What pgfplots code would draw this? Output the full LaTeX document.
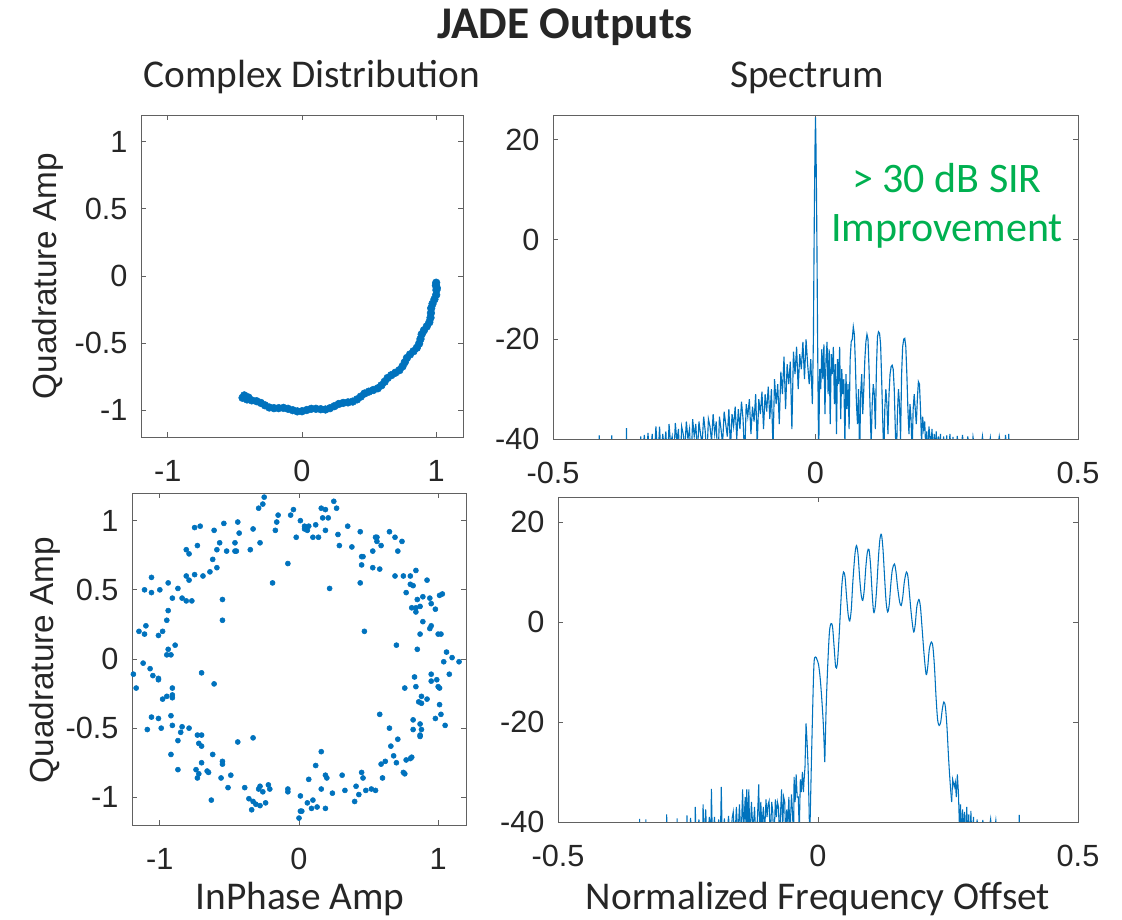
\documentclass[border=0pt]{standalone}
\usepackage{fontspec}
\setmainfont{Liberation Sans}
\newfontfamily\calib{Carlito}
\usepackage{pgfplots}
\pgfplotsset{compat=1.18}
\definecolor{mblue}{HTML}{0072BD}
\definecolor{mgreen}{HTML}{00B050}
\pgfplotsset{ml/.style={scale only axis, anchor=south west,
  axis line style={draw=black!62, line width=0.7pt},
  tick align=inside, major tick length=3.5pt,
  tick style={draw=black!62, line width=0.7pt},
  tick label style={font=\fontsize{23}{24}\selectfont, text=black!85},
  /pgf/number format/assume math mode=true,
  xticklabel style={inner sep=0pt, anchor=north, yshift=-17pt},
  yticklabel style={inner sep=0pt, anchor=east, xshift=-10pt}},
  iq/.style={ml, xmin=-1.2, xmax=1.2, ymin=-1.2, ymax=1.2, xtick={-1,0,1}, ytick={-1,-0.5,0,0.5,1}},
  sp/.style={ml, xmin=-0.5, xmax=0.5, ymin=-40, ymax=25, xtick={-0.5,0,0.5}, ytick={-40,-20,0,20}}
}
\begin{document}
\begin{tikzpicture}
\useasboundingbox (0,0) rectangle (841.5pt,690pt);
% titles
\node[anchor=base, inner sep=0pt, text=black!85] at (423.75pt,660.75pt) {\calib\bfseries\fontsize{34}{36}\selectfont JADE Outputs};
\node[anchor=base, inner sep=0pt, text=black!85] at (234pt,624pt) {\calib\fontsize{29.5}{30}\selectfont Complex Distribution};
\node[anchor=base, inner sep=0pt, text=black!85] at (605.25pt,624pt) {\calib\fontsize{29.5}{30}\selectfont Spectrum};
\node[anchor=base, inner sep=0pt, text=black!85] at (225pt,7.5pt) {\calib\fontsize{29.5}{30}\selectfont InPhase Amp};
\node[anchor=base, inner sep=0pt, text=black!85] at (613.5pt,7.5pt) {\calib\fontsize{29.5}{30}\selectfont Normalized Frequency Offset};
\node[rotate=90, inner sep=0pt, text=black!85] at (36pt,483pt) {\fontsize{25}{26}\selectfont Quadrature Amp};
\node[rotate=90, inner sep=0pt, text=black!85] at (34pt,195pt) {\fontsize{25}{26}\selectfont Quadrature Amp};

% top-left
\begin{axis}[iq, at={(105.75pt,362.25pt)}, width=241.5pt, height=241.5pt]
\addplot[only marks, mark=*, mark size=2.9pt, color=mblue] coordinates {
(1.000,-0.050) (1.005,-0.090)
(0.998,-0.070) (1.002,-0.105) (1.000,-0.141) (0.987,-0.174) (0.973,-0.207) (0.963,-0.240)
(0.961,-0.276) (0.958,-0.311) (0.949,-0.345) (0.930,-0.376) (0.909,-0.405) (0.892,-0.435)
(0.883,-0.470) (0.873,-0.504) (0.856,-0.535) (0.831,-0.561) (0.805,-0.585) (0.782,-0.611)
(0.766,-0.643) (0.749,-0.674) (0.726,-0.702) (0.696,-0.721) (0.666,-0.739) (0.638,-0.760)
(0.616,-0.788) (0.592,-0.815) (0.565,-0.837) (0.531,-0.850) (0.498,-0.862) (0.466,-0.876)
(0.438,-0.899) (0.410,-0.920) (0.378,-0.936) (0.343,-0.942) (0.307,-0.946) (0.274,-0.954)
(0.242,-0.970) (0.209,-0.985) (0.175,-0.995) (0.140,-0.993) (0.104,-0.990) (0.069,-0.990)
(0.035,-0.999) (0.000,-1.008) (-0.035,-1.009) (-0.070,-1.000) (-0.104,-0.990) (-0.138,-0.983)
(-0.174,-0.985) (-0.209,-0.985) (-0.244,-0.980) (-0.276,-0.964) (-0.307,-0.946) (-0.339,-0.933)
(-0.375,-0.927) (-0.410,-0.920) (-0.443,-0.908) (-0.430,-0.890) (-0.400,-0.905)
};
\end{axis}

% top-right
\begin{axis}[sp, at={(414.75pt,360.75pt)}, width=393.75pt, height=243pt]
\addplot[color=mblue, line width=0.85pt] coordinates {
(-0.5,-48) (-0.413,-46) (-0.412,-39.3) (-0.411,-46) (-0.389,-46) (-0.388,-39.3) (-0.387,-46)
(-0.361,-46) (-0.360,-37.8) (-0.359,-46) (-0.334,-46) (-0.333,-39.5) (-0.331,-45) (-0.326,-39.2)
(-0.323,-45) (-0.319,-38.8) (-0.316,-45) (-0.311,-39) (-0.308,-46) (-0.304,-37.5) (-0.300,-44)
(-0.297,-37.5) (-0.294,-45) (-0.291,-39) (-0.288,-42) (-0.285,-38.5) (-0.282,-46) (-0.279,-37)
(-0.276,-41) (-0.273,-39.5) (-0.270,-44) (-0.267,-36.8) (-0.264,-40.5) (-0.261,-38) (-0.258,-47)
(-0.255,-37.5) (-0.252,-39) (-0.249,-42) (-0.246,-36.5) (-0.243,-40) (-0.240,-38) (-0.237,-45)
(-0.234,-36) (-0.231,-39.5) (-0.228,-37) (-0.225,-43) (-0.222,-36.5) (-0.219,-39) (-0.216,-41)
(-0.213,-35.5) (-0.210,-38.5) (-0.207,-44) (-0.204,-36) (-0.201,-37.5) (-0.198,-40.5) (-0.195,-35)
(-0.192,-39) (-0.189,-36.5) (-0.186,-46) (-0.183,-35.5) (-0.180,-38) (-0.177,-41) (-0.174,-34.5)
(-0.171,-37) (-0.168,-39.5) (-0.165,-34) (-0.162,-42) (-0.159,-35) (-0.156,-37.5) (-0.153,-33.5)
(-0.150,-40) (-0.147,-34) (-0.144,-38) (-0.141,-32.5) (-0.138,-36) (-0.135,-44) (-0.132,-33)
(-0.129,-35.5) (-0.126,-32) (-0.123,-39) (-0.120,-33.5) (-0.117,-36.5) (-0.114,-31) (-0.111,-41)
(-0.108,-32) (-0.105,-35) (-0.102,-30.5) (-0.099,-38) (-0.096,-31) (-0.093,-34.5) (-0.090,-29.5)
(-0.087,-36) (-0.084,-30) (-0.081,-42) (-0.078,-28) (-0.075,-33) (-0.072,-29) (-0.069,-37)
(-0.066,-26.5) (-0.063,-31) (-0.060,-23.5) (-0.057,-34) (-0.054,-25) (-0.051,-29) (-0.048,-24.5)
(-0.045,-38) (-0.042,-22.5) (-0.039,-27) (-0.036,-21.5) (-0.033,-30) (-0.030,-23) (-0.027,-26)
(-0.024,-20.5) (-0.021,-28) (-0.018,-20) (-0.015,-25) (-0.012,-29) (-0.009,-24) (-0.006,-33)
(-0.004,-20) (-0.003,-5) (-0.002,8) (-0.001,18) (0.000,24.5) (0.001,18) (0.002,8) (0.003,-5)
(0.004,-20) (0.006,-44) (0.008,-26) (0.010,-30) (0.012,-22) (0.014,-28) (0.016,-21) (0.018,-35)
(0.020,-24) (0.022,-20.5) (0.024,-31) (0.026,-22) (0.028,-37) (0.030,-23) (0.032,-27) (0.034,-21.5)
(0.036,-33) (0.038,-25) (0.040,-39) (0.042,-24) (0.044,-29) (0.046,-21.5) (0.048,-36) (0.050,-26)
(0.052,-31) (0.054,-28) (0.056,-41) (0.058,-27) (0.060,-34) (0.062,-29) (0.064,-38) (0.066,-24)
(0.068,-20.5) (0.070,-20) (0.072,-17.5) (0.074,-19) (0.076,-25) (0.078,-33) (0.080,-37) (0.082,-30)
(0.084,-44) (0.086,-31) (0.088,-27) (0.090,-35) (0.092,-30) (0.094,-24) (0.096,-20.5) (0.098,-19)
(0.100,-20) (0.102,-26) (0.104,-34) (0.106,-41) (0.108,-33) (0.110,-29) (0.112,-31) (0.114,-38)
(0.116,-26) (0.118,-19.5) (0.120,-18.5) (0.122,-18.8) (0.124,-21) (0.126,-28) (0.128,-36) (0.130,-44)
(0.132,-34) (0.134,-30) (0.136,-33) (0.138,-39) (0.140,-31) (0.142,-27) (0.144,-25.5) (0.146,-25.2)
(0.148,-26) (0.150,-30) (0.152,-38) (0.154,-45) (0.156,-35) (0.158,-30) (0.160,-33) (0.162,-40)
(0.164,-27) (0.166,-21.5) (0.168,-20) (0.170,-19.8) (0.172,-21.5) (0.174,-27) (0.176,-34) (0.178,-39)
(0.180,-33) (0.182,-36) (0.184,-43) (0.186,-34) (0.188,-31) (0.190,-34) (0.192,-37) (0.194,-32)
(0.196,-28.5) (0.198,-29) (0.200,-34) (0.202,-41) (0.204,-35.5) (0.206,-38) (0.208,-36.5) (0.210,-42)
(0.212,-38.5) (0.214,-45) (0.216,-37.5) (0.218,-39.5) (0.220,-41) (0.222,-38) (0.224,-46) (0.226,-39)
(0.228,-42) (0.230,-38.5) (0.232,-45) (0.234,-39.5) (0.236,-43) (0.238,-39) (0.241,-47) (0.244,-39.5)
(0.247,-44) (0.250,-39.3) (0.253,-46) (0.256,-39) (0.259,-44) (0.262,-39.6) (0.265,-47) (0.270,-39.4)
(0.275,-45) (0.280,-39.2) (0.285,-46) (0.290,-39.5) (0.296,-45) (0.300,-39.6) (0.310,-47) (0.318,-39.5)
(0.325,-46) (0.333,-39.8) (0.340,-47) (0.350,-39.5) (0.358,-45) (0.362,-39.2) (0.366,-46) (0.368,-39)
(0.372,-48) (0.5,-48)
};
\end{axis}
\node[anchor=base, inner sep=0pt, text=mgreen] at (710.25pt,545.25pt) {\calib\fontsize{31.5}{32}\selectfont > 30 dB SIR};
\node[anchor=base, inner sep=0pt, text=mgreen] at (710.25pt,508.5pt) {\calib\fontsize{31.5}{32}\selectfont Improvement};

% bottom-left
\begin{axis}[iq, at={(99pt,71.25pt)}, width=250.5pt, height=249pt]
\addplot[only marks, mark=*, mark size=1.9pt, color=mblue] coordinates {
(-0.25,1.17) (-0.26,1.12) (-0.29,1.09) (0.16,1.09) (0.19,1.08) (0.25,1.14) (0.27,1.09) (0.17,1.02)
(0.21,1.02) (-0.04,1.08) (-0.15,1.04) (-0.16,0.99) (-0.17,0.93) (-0.06,1.04) (0.01,1.00) (0.04,0.96)
(0.04,0.94) (0.07,0.96) (0.06,0.93) (0.12,0.97) (0.19,0.93) (0.14,0.88) (0.10,0.88) (-0.02,0.88)
(0.28,0.90) (0.29,0.82) (0.35,0.96) (0.44,0.92) (0.38,0.81) (0.55,0.88) (0.56,0.88) (0.56,0.85)
(0.59,0.82) (0.53,0.78) (0.65,0.92) (0.69,0.88) (0.74,0.85) (0.71,0.78) (-0.44,0.99) (-0.54,0.98)
(-0.43,0.91) (-0.33,0.94) (-0.28,0.84) (-0.35,0.79) (-0.46,0.84) (-0.46,0.78) (-0.45,0.78) (-0.52,0.78)
(-0.57,0.84) (-0.59,0.79) (-0.61,0.93) (-0.71,0.96) (-0.75,0.95) (-0.73,0.82) (-0.81,0.79) (-0.79,0.76)
(-0.62,0.72) (-0.59,0.66) (-0.64,0.63) (-0.69,0.60) (-0.75,0.61) (-0.81,0.60) (-0.79,0.57) (-0.94,0.55)
(-1.06,0.59) (-0.87,0.51) (-1.00,0.50) (-1.11,0.50) (-1.06,0.48) (-0.91,0.44) (-0.84,0.44) (-0.81,0.42)
(-0.77,0.42) (-0.94,0.35) (-0.95,0.28) (-0.55,0.43) (-0.55,0.28) (-0.08,0.69) (-0.19,0.55)
(0.45,0.74) (0.46,0.74) (0.45,0.68) (0.53,0.66) (0.58,0.65) (0.44,0.55) (0.22,0.51) (0.69,0.60)
(0.75,0.60) (0.80,0.60) (0.84,0.64) (0.80,0.54) (0.82,0.53) (0.77,0.48) (0.85,0.43) (0.89,0.45)
(0.92,0.57) (0.94,0.44) (0.95,0.40) (1.01,0.46) (1.03,0.47) (0.81,0.37) (0.84,0.34) (0.84,0.37)
(0.87,0.38) (0.98,0.36) (0.89,0.27) (0.95,0.24) (0.94,0.22) (1.00,0.18) (1.02,0.18) (0.47,0.20)
(-1.15,0.20) (-1.10,0.24) (-1.11,0.18) (-0.98,0.20) (-1.01,0.17) (-0.89,0.10) (-0.94,0.07) (-0.95,0.03)
(-0.92,0.03) (-1.12,-0.03) (-1.19,-0.11) (-1.17,-0.21) (-1.07,-0.07) (-1.05,-0.12) (-1.01,-0.14) (-1.01,-0.15)
(-0.98,-0.29) (-0.95,-0.27) (-0.91,-0.21) (-0.91,-0.26) (-0.91,-0.28) (-1.06,-0.42) (-1.01,-0.43) (-0.99,-0.50)
(-1.09,-0.51) (-0.92,-0.41) (-0.91,-0.48) (-0.84,-0.49) (-0.85,-0.53) (-0.87,-0.59) (-0.79,-0.50) (-0.92,-0.69)
(-0.87,-0.80) (-0.70,-0.10) (-0.61,-0.18)
(0.70,0.10) (0.85,0.07) (0.87,0.18) (1.06,0.05) (1.10,0.01) (1.15,-0.02) (1.04,-0.02) (1.08,-0.11)
(0.95,-0.11) (0.83,-0.13) (0.95,-0.16) (0.99,-0.15) (1.00,-0.20) (1.01,-0.21) (1.01,-0.33) (1.02,-0.40)
(0.98,-0.43) (1.05,-0.48) (0.76,-0.21) (0.84,-0.20) (0.88,-0.27) (0.86,-0.31) (0.92,-0.29) (0.88,-0.32)
(0.82,-0.44) (0.87,-0.47) (0.88,-0.51) (0.87,-0.55) (0.87,-0.56) (0.82,-0.51) (0.58,-0.40) (0.65,-0.50)
(-0.73,-0.55) (-0.70,-0.55) (-0.72,-0.61) (-0.70,-0.63) (-0.74,-0.80) (-0.72,-0.83) (-0.73,-0.86) (-0.70,-0.75)
(-0.66,-0.81) (-0.65,-0.82) (-0.62,-0.69) (-0.55,-0.74) (-0.55,-0.76) (-0.56,-0.86) (-0.49,-0.84) (-0.51,-0.93)
(-0.39,-0.93) (-0.44,-0.60) (-0.33,-0.57) (-0.36,-1.01) (-0.33,-1.03) (-0.34,-1.09) (-0.31,-1.05) (-0.28,-1.06)
(-0.24,-1.04) (-0.29,-0.94) (-0.28,-0.92) (-0.26,-0.96) (-0.22,-0.91) (-0.21,-0.94) (-0.63,-1.02) (-0.08,-0.94)
(-0.08,-0.96)
(0.01,-0.99) (0.01,-1.10) (0.02,-1.10) (0.00,-1.15) (0.06,-1.04) (0.09,-1.08) (0.10,-1.02) (0.13,-1.07)
(0.07,-0.87) (0.12,-0.77) (0.16,-0.67) (0.16,-0.94) (0.19,-1.08) (0.19,-0.84) (0.20,-0.86) (0.24,-0.97)
(0.31,-0.84) (0.33,-0.95) (0.40,-1.03) (0.41,-0.92) (0.43,-0.98) (0.45,-0.82) (0.46,-0.86) (0.48,-0.95)
(0.52,-0.94) (0.55,-0.95) (0.59,-0.76) (0.62,-0.74) (0.60,-0.86) (0.66,-0.63) (0.68,-0.70) (0.70,-0.75)
(0.71,-0.58) (0.75,-0.82) (0.76,-0.83) (0.77,-0.73) (0.80,-0.72) (0.81,-0.71)
};
\end{axis}

% bottom-right
\begin{axis}[sp, at={(418.5pt,73.5pt)}, width=390pt, height=243.75pt]
\addplot[color=mblue, line width=0.8pt] coordinates {
(-0.5,-48) (-0.344,-47) (-0.343,-39.4) (-0.342,-47) (-0.332,-47) (-0.331,-39.5) (-0.330,-47)
(-0.292,-47) (-0.291,-38.5) (-0.290,-47) (-0.272,-47) (-0.271,-39.3) (-0.270,-47) (-0.253,-46)
(-0.252,-38.7) (-0.250,-46) (-0.245,-39.2) (-0.242,-46) (-0.237,-45) (-0.236,-37) (-0.234,-45)
(-0.229,-39.5) (-0.226,-45) (-0.222,-44) (-0.221,-36.5) (-0.219,-44) (-0.216,-37.5) (-0.213,-45)
(-0.209,-39) (-0.206,-42) (-0.205,-33.4) (-0.203,-44) (-0.199,-39) (-0.196,-46) (-0.191,-39.5)
(-0.188,-45) (-0.186,-33) (-0.184,-44) (-0.180,-39.3) (-0.177,-45) (-0.172,-38.8) (-0.169,-45)
(-0.165,-39.2) (-0.163,-38) (-0.160,-44) (-0.157,-37) (-0.154,-43) (-0.151,-36.5) (-0.148,-44)
(-0.145,-33.5) (-0.143,-42) (-0.140,-35) (-0.138,-43) (-0.137,-33.5) (-0.135,-42) (-0.133,-33.5)
(-0.131,-44) (-0.128,-36) (-0.125,-42) (-0.122,-37) (-0.119,-45) (-0.116,-38) (-0.114,-32.5)
(-0.112,-44) (-0.110,-36) (-0.108,-41) (-0.105,-37) (-0.103,-43) (-0.100,-35.5) (-0.098,-39)
(-0.096,-36.5) (-0.094,-35.8) (-0.092,-44) (-0.089,-36) (-0.087,-38) (-0.085,-45) (-0.082,-35.5)
(-0.080,-39) (-0.078,-36) (-0.076,-37) (-0.074,-44) (-0.072,-38) (-0.070,-33.5) (-0.068,-42)
(-0.066,-35) (-0.064,-36) (-0.062,-44) (-0.060,-37.5) (-0.058,-40) (-0.056,-35) (-0.054,-43)
(-0.051,-34.5) (-0.049,-38) (-0.047,-45) (-0.046,-31) (-0.044,-36) (-0.042,-30.5) (-0.040,-35)
(-0.038,-35) (-0.036,-42) (-0.034,-31.5) (-0.032,-34) (-0.030,-30) (-0.028,-34) (-0.027,-32)
(-0.025,-29) (-0.023,-20.3) (-0.021,-24) (-0.019,-29) (-0.017,-38) (-0.016,-44)
};
\addplot[color=mblue, line width=0.8pt, smooth, tension=0.5] coordinates {
(-0.016,-44) (-0.012,-25) (-0.008,-9) (-0.005,-7) (-0.002,-7.5) (0.001,-8.5) (0.004,-11)
(0.007,-15) (0.010,-20) (0.012,-25) (0.013,-28) (0.014,-24) (0.016,-16) (0.019,-8) (0.022,-2) (0.025,-0.3) (0.028,-1)
(0.031,-5) (0.034,-9) (0.037,-8.5) (0.040,-4) (0.043,2) (0.046,7.5) (0.049,10) (0.052,9)
(0.055,5) (0.058,1.5) (0.061,0.2) (0.064,2.5) (0.067,8) (0.071,13.5) (0.074,15.3) (0.077,13.5)
(0.080,9) (0.083,5.5) (0.086,4.3) (0.089,6.5) (0.092,11) (0.095,14) (0.098,14.5) (0.101,11.5)
(0.104,6) (0.107,2) (0.110,3) (0.113,7) (0.116,12.5) (0.119,16.5) (0.122,17.5) (0.125,14.5)
(0.128,9) (0.131,4) (0.134,2) (0.137,3.5) (0.140,7.5) (0.143,10.5) (0.147,11.6) (0.150,10)
(0.153,7) (0.157,4) (0.160,3.3) (0.163,5) (0.166,8) (0.170,10) (0.173,9) (0.176,5.5) (0.180,1)
(0.184,-2) (0.187,-0.5) (0.190,3) (0.194,4.5) (0.197,3) (0.200,-1) (0.204,-6.5) (0.208,-10.5)
(0.211,-9) (0.214,-5.5) (0.218,-4) (0.221,-5) (0.224,-9) (0.227,-15) (0.230,-19.5) (0.233,-20.7)
(0.236,-20) (0.239,-17.5) (0.242,-16) (0.245,-17) (0.248,-21) (0.251,-27) (0.254,-32) (0.257,-36)
};
\addplot[color=mblue, line width=0.8pt] coordinates {
(0.257,-36) (0.259,-31.5) (0.262,-33) (0.264,-32) (0.266,-35) (0.268,-30.5) (0.270,-34) (0.272,-41)
(0.274,-36.5) (0.276,-44) (0.278,-37.5) (0.280,-42) (0.282,-38) (0.284,-46) (0.286,-37) (0.288,-43)
(0.290,-38.5) (0.292,-47) (0.294,-37.8) (0.296,-44) (0.299,-39) (0.302,-46) (0.306,-39.5) (0.310,-47)
(0.317,-39.6) (0.322,-46) (0.332,-39.4) (0.336,-45) (0.342,-39.7) (0.348,-47) (0.386,-47) (0.387,-38.6)
(0.388,-47) (0.5,-48)
};
\end{axis}
\end{tikzpicture}
\end{document}
